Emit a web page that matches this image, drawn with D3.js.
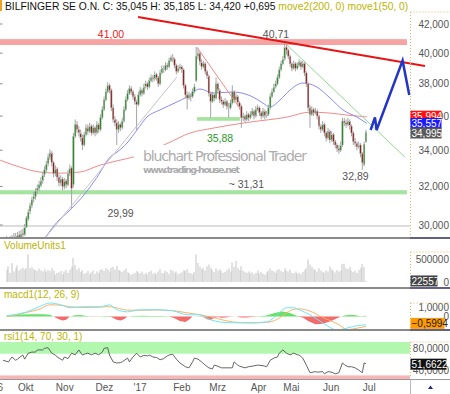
<!DOCTYPE html>
<html>
<head>
<meta charset="utf-8">
<script src="https://cdn.jsdelivr.net/npm/d3@7"></script>
<style>
  body { margin: 0; background: #fff; }
  svg { display: block; font-family: "Liberation Sans", Arial, sans-serif; }
</style>
</head>
<body>
<svg id="chart" width="450" height="394"></svg>
<script>
// ---- daily candles (trading-day index 0..199, Sep '16 .. Jul '17)
const opens = [29.30,29.20,29.10,29.30,29.25,29.45,29.35,29.50,29.40,29.60,
  29.50,29.90,30.30,30.70,31.00,31.35,31.45,31.80,31.90,32.05,
  32.30,32.65,32.90,33.25,33.60,33.85,33.30,32.70,32.95,32.50,
  32.20,32.40,32.00,32.30,32.10,32.70,33.00,32.10,34.80,35.50,
  35.20,35.00,34.70,34.30,34.90,35.30,35.10,35.40,35.00,35.30,
  35.00,35.50,35.20,35.90,36.40,37.00,37.50,37.90,37.60,36.50,
  35.80,35.60,35.20,35.50,35.30,35.70,36.40,37.00,37.40,37.70,
  37.50,37.20,36.90,36.70,37.30,37.60,37.40,37.80,38.00,37.80,
  38.20,38.40,38.30,38.60,38.40,38.00,38.70,39.00,38.90,39.20,
  39.10,39.50,39.70,39.60,39.20,38.80,39.00,39.10,38.90,37.90,
  37.30,37.10,37.30,37.20,37.50,38.20,39.80,40.00,39.40,39.10,
  39.30,38.80,38.50,37.40,36.90,37.30,37.10,38.00,37.60,37.00,
  36.90,36.70,36.90,36.60,36.50,36.80,37.50,37.00,37.20,36.80,
  36.60,35.90,36.00,35.80,36.10,35.90,36.10,36.30,36.00,36.40,
  36.50,36.20,36.00,36.30,36.00,36.10,36.50,37.20,37.50,37.80,
  38.00,38.40,38.90,39.30,39.60,40.40,40.20,39.80,39.30,39.00,
  39.30,39.00,39.20,39.40,39.10,39.30,38.70,38.00,36.50,36.10,
  36.40,36.20,36.30,36.00,35.40,35.20,35.50,35.00,34.70,35.10,
  34.60,34.90,34.50,34.30,34.10,34.00,34.30,35.70,35.60,35.50,
  35.70,35.40,35.00,34.50,34.40,34.20,34.30,33.80,33.20,34.50];
const highs = [29.45,29.35,29.45,29.50,29.60,29.60,29.65,29.70,29.75,29.80,
  30.05,30.45,30.80,31.15,31.45,31.70,31.90,32.10,32.30,32.50,
  32.80,33.10,33.40,33.80,34.05,33.95,33.40,33.15,33.05,32.65,
  32.60,32.50,32.45,32.40,32.90,33.20,33.10,35.00,35.80,35.70,
  35.40,35.20,34.90,35.05,35.50,35.50,35.60,35.50,35.50,35.40,
  35.70,35.60,36.10,36.60,37.20,37.70,38.10,38.00,37.70,36.70,
  36.00,35.80,35.70,35.60,35.90,36.60,37.20,37.60,37.90,37.85,
  37.60,37.35,37.00,37.50,37.80,37.70,38.00,38.20,38.10,38.40,
  38.60,38.55,38.80,38.70,38.50,38.90,39.20,39.15,39.40,39.35,
  39.70,39.85,39.95,39.70,39.30,39.20,39.30,39.20,39.00,38.00,
  37.50,37.50,37.40,37.70,38.00,40.40,40.30,40.10,39.60,39.50,
  39.40,38.90,38.60,37.50,37.50,37.40,38.40,38.10,37.70,37.20,
  37.00,37.10,37.00,36.80,37.00,37.90,37.60,37.40,37.30,36.90,
  36.70,36.20,36.10,36.30,36.20,36.30,36.50,36.40,36.60,36.70,
  36.60,36.30,36.50,36.40,36.30,36.70,37.40,37.70,38.00,38.20,
  38.60,39.10,39.50,39.80,40.71,40.60,40.30,39.90,39.40,39.50,
  39.40,39.40,39.60,39.50,39.50,39.40,38.80,38.10,36.70,36.60,
  36.50,36.50,36.40,36.10,35.50,35.70,35.60,35.10,35.30,35.20,
  35.10,35.00,34.60,34.40,34.30,34.50,35.90,35.90,35.80,35.90,
  35.80,35.50,35.10,34.70,34.50,34.50,34.40,33.90,34.50,35.185];
const lows = [29.05,28.95,29.05,29.10,29.15,29.20,29.25,29.25,29.30,29.35,
  29.45,29.85,30.20,30.55,30.85,31.15,31.30,31.60,31.75,31.95,
  32.15,32.50,32.75,33.10,33.45,33.10,32.50,32.55,32.30,32.00,
  32.05,31.80,31.85,31.90,32.00,32.55,30.80,31.95,34.70,35.00,
  34.80,34.50,34.00,34.20,34.80,34.90,35.00,34.85,34.90,34.80,
  34.90,35.00,35.10,35.80,36.30,36.90,37.40,37.40,36.30,35.60,
  35.40,34.30,35.00,35.10,35.20,35.60,36.30,36.90,37.30,37.30,
  37.00,36.70,35.20,36.60,37.20,37.20,37.30,37.70,37.60,37.70,
  38.10,38.10,38.20,38.20,37.80,37.90,38.60,38.70,38.80,38.90,
  39.00,39.40,39.40,39.00,38.60,38.70,38.90,38.70,37.70,37.10,
  36.40,37.00,36.90,37.10,37.40,38.10,39.60,39.20,38.90,39.00,
  38.60,38.30,37.20,35.90,36.80,36.90,37.00,37.40,36.80,36.70,
  36.50,36.60,36.40,35.90,36.40,36.70,36.80,36.90,36.60,36.40,
  35.30,35.70,35.60,35.70,35.70,35.80,36.00,35.80,35.90,36.30,
  36.00,35.80,35.90,35.80,35.90,36.00,36.40,37.10,37.40,37.70,
  37.90,38.30,38.80,39.20,39.50,39.90,39.60,39.10,38.80,38.90,
  38.80,38.90,39.10,38.90,39.00,38.50,37.80,36.30,35.30,36.00,
  36.00,36.10,35.80,35.20,35.00,35.10,34.80,34.50,34.60,34.40,
  34.50,34.30,34.10,33.90,33.80,33.90,34.20,35.40,35.30,35.40,
  35.20,34.80,34.30,34.20,34.00,34.10,33.60,32.89,33.10,34.42];
const closes = [29.20,29.10,29.30,29.25,29.40,29.35,29.45,29.40,29.55,29.50,
  29.90,30.35,30.65,31.00,31.30,31.45,31.75,31.90,32.10,32.30,
  32.60,32.90,33.20,33.60,33.85,33.30,32.70,32.90,32.50,32.20,
  32.40,32.00,32.25,32.10,32.70,33.00,31.90,34.80,35.50,35.20,
  35.00,34.70,34.30,34.90,35.30,35.10,35.40,35.00,35.30,35.00,
  35.50,35.20,35.90,36.40,37.00,37.50,37.90,37.60,36.50,35.80,
  35.60,35.20,35.50,35.30,35.70,36.40,37.00,37.40,37.70,37.50,
  37.20,36.90,36.70,37.30,37.60,37.40,37.80,38.00,37.80,38.20,
  38.40,38.30,38.60,38.40,38.00,38.70,39.00,38.90,39.20,39.10,
  39.50,39.70,39.60,39.20,38.80,39.00,39.10,38.90,37.90,37.30,
  37.10,37.30,37.20,37.50,37.80,39.80,40.00,39.40,39.10,39.30,
  38.80,38.50,37.40,36.90,37.30,37.10,38.00,37.60,37.00,36.90,
  36.70,36.90,36.60,36.50,36.80,37.50,37.00,37.20,36.80,36.60,
  35.90,36.00,35.80,36.10,35.90,36.10,36.30,36.00,36.40,36.50,
  36.20,36.00,36.30,36.00,36.10,36.50,37.20,37.50,37.80,38.00,
  38.40,38.90,39.30,39.60,40.40,40.20,39.80,39.30,39.00,39.30,
  39.00,39.20,39.40,39.10,39.30,38.70,38.00,36.50,36.10,36.40,
  36.20,36.30,36.00,35.40,35.20,35.50,35.00,34.70,35.10,34.60,
  34.90,34.50,34.30,34.10,34.00,34.30,35.70,35.60,35.50,35.70,
  35.40,35.00,34.50,34.40,34.20,34.30,33.80,33.30,34.35,35.045];
// volume in thousand units
const volumes = [260,340,200,410,230,300,360,250,280,310,
  270,300,600,300,320,270,260,240,290,250,
  230,280,220,260,240,300,250,160,200,210,
  240,170,230,260,200,270,330,520,370,270,
  300,220,260,180,200,240,170,210,250,180,
  230,200,260,280,240,300,270,230,310,330,
  270,350,260,240,220,250,290,210,190,160,
  180,200,240,210,190,230,170,200,160,220,
  250,180,200,170,230,280,200,190,250,220,
  180,270,240,200,230,170,190,210,260,240,
  280,200,190,170,220,600,410,330,280,300,
  250,340,380,310,260,220,300,250,280,240,
  200,220,260,300,230,420,330,460,300,260,
  340,250,220,200,230,190,210,170,200,250,
  190,220,180,160,210,240,290,250,230,200,
  260,280,240,220,300,250,230,270,200,190,
  230,180,200,170,220,260,300,490,380,330,
  280,260,230,300,250,220,200,250,230,340,
  280,240,210,260,230,250,390,400,300,280,
  330,250,220,240,200,260,310,390,330,22.557];

// ---- moving averages: [day index, price]
const ma200 = [[-3.6,33.44],[7.4,33.05],[18.5,32.78],[29.6,32.72],[40.6,32.78],[51.7,33.16],
  [62.8,33.44],[70,33.61],[89.4,34.41],[101.5,34.99],[114.3,35.28],[123.7,35.46],[134.8,35.64],
  [155.3,35.94],[168,36.24],[179.1,36.18],[188.5,36.06],[199.5,35.95]];
const ma50 = [[18.5,29.0],[21.3,29.35],[27.9,30.14],[35.1,30.76],[41.8,31.43],[50.1,32.5],
  [57.3,33.61],[61.1,33.89],[66.7,34.41],[72.2,35.17],[77.7,35.94],[84.9,36.37],[94.3,36.86],
  [99.9,37.17],[107.1,37.67],[114.3,37.42],[125.4,37.48],[136.4,37.17],[142,36.79],[145.8,36.55],
  [151.4,36.98],[156.9,37.6],[164.1,38.05],[171.9,37.79],[179.1,37.11],[186.3,36.37],[194,35.94],
  [199.5,35.56]];

// ---- drawn analysis: [day index, price]
const resistLine = [[72.8,42.5],[231.7,39.15]];
const fallLine = [[155.3,40.55],[220.6,33.61]];
const febLine = [[105.4,40.4],[129.8,36.37]];
const riseLine = [[21.3,29.35],[94.3,38.43]];
const forecast = [[201.6,35.17],[204.0,35.92],[204.9,35.17],[219.3,39.5],[223.0,37.29]];
const redZone = [40.55, 40.95];
const lowZone = [31.58, 31.80];
const midZone = [35.72, 35.94];
const midZoneDays = [105.4, 129.2];
const zoneDays = [-3.65, 221.7];
const lowLevel = 29.95;
const noteText = ["41,00", "40,71", "35,88", "~ 31,31", "29,99", "32,89"];
const noteDay = [57.8, 149.2, 118.2, 132.8, 63.1, 193.2];
const notePrice = [41.03, 41.03, 34.47, 31.91, 30.40, 32.34];

// ---- indicators
const macdDay = [0,4,11,18,24,30,35,42,52,57,61,67,74,83,92,100,107,113,118,125,135,144,150,155,159,162,168,175,183,189,194,199];
const macdVal = [0.08,0.2,0.5,1.08,1.5,1.3,0.97,1.08,1.08,1.3,0.75,0.52,0.75,0.75,0.63,0.19,0.19,-0.37,-0.6,-0.7,-0.7,-0.6,0.19,0.97,0.97,0.75,0.19,-0.7,-1.48,-1.26,-1.03,-0.92];
const signalVal = [0.0,0.1,0.45,0.8,1.3,1.25,1.1,1.0,1.05,1.1,0.95,0.7,0.7,0.72,0.65,0.4,0.2,-0.05,-0.3,-0.6,-0.72,-0.65,-0.3,0.4,0.8,0.85,0.6,-0.1,-0.8,-1.45,-1.3,-1.1];
const histDay = [0,3,8,14,20,24,26,29,31,33,35,38,41,44,47,52,56,58,61,63,65,67,70,75,80,85,90,93,96,99,101,103,106,109,111,113,115,117,119,121,124,127,130,133,136,140,144,148,152,155,158,161,164,167,171,175,179,183,185,188,191,194,196,198,199];
const histVal = [0.05,0.15,0.22,0.25,0.25,0.2,0.0,-0.3,-0.45,-0.35,0.0,0.15,0.18,0.05,-0.02,0.04,0.06,-0.05,-0.35,-0.45,-0.3,0.0,0.05,0.08,0.06,0.05,0.02,-0.2,-0.5,-0.6,-0.35,0.0,0.03,-0.05,-0.3,-0.4,-0.15,-0.05,-0.15,-0.1,-0.02,0.0,-0.1,-0.12,-0.05,0.02,0.1,0.35,0.55,0.5,0.3,0.05,-0.1,-0.5,-0.85,-0.8,-0.55,-0.2,0.0,0.15,0.2,0.1,0.03,0.05,0.1];
const rsiDay = [-2,1,3,5,6,9,10,12,14,16,17,20,21,23,25,27,28,31,32,34,36,38,40,42,43,45,47,49,51,53,54,56,57,59,61,63,64,67,68,70,72,74,76,78,79,81,83,85,87,89,90,92,94,96,99,101,103,104,106,108,110,112,114,115,117,119,122,125,126,128,129,132,134,136,139,142,144,146,148,150,151,153,155,157,159,161,162,164,166,168,171,172,175,176,178,180,182,184,186,187,189,191,193,195,197,198,199];
const rsiVal = [58,55,64,58,60,67.6,60,71,73,73,77,77,80,81,71,67.6,64,58,64,61,71,68,77,67.6,69,71,68,71,68,73,80,81,67.6,55,53,53.5,55,62,55,64,71,64,67,66,67.6,64,63,59,61,66,67.6,69,60,53,46,44,55,62,60,55,49,44,42,49,47,44,44,44,55,49,47,44,46,47,49,48,46,58,62,64,71,77,71,68,71,68,67.6,62,49,35,37,36,37,33,37,36,33,35,53,50,46,46,44,40,35,53,51.66];

// ---- axes
const priceTicks = [30, 32, 34, 36, 38, 40, 42];
const priceTags = [35.994, 35.557, 34.995];
const monthLabels = ["'16", "Okt", "Nov", "Dez", "'17", "Feb", "Mrz", "Apr", "Mai", "Jun", "Jul"];
const monthStart = [-9.5, 6, 27, 49, 70, 92, 112, 135, 153, 175, 197];

const W = 450, plotRight = 410;
const svg = d3.select("#chart");
const de = d3.formatLocale({ decimal: ",", thousands: ".", grouping: [3], currency: ["", " €"] });
const fmt3 = de.format(".3f"), fmt4 = de.format(".4f");

const x = d3.scaleLinear().domain([-3.65, 223.4]).range([0, plotRight]);
const y = d3.scaleLog().domain([30, 42]).range([225, 24]);
const yVol = d3.scaleLinear().domain([0, 500]).range([282, 259]);
const yMacd = d3.scaleLinear().domain([0, 1]).range([316.5, 307.5]);
const yRsi = d3.scaleLinear().domain([40, 80]).range([370, 348.3]);

const defs = svg.append("defs");
defs.append("clipPath").attr("id", "clipMain").append("rect").attr("x", 0).attr("y", 12).attr("width", plotRight).attr("height", 225);
defs.append("clipPath").attr("id", "clipRsi").append("rect").attr("x", 0).attr("y", 342).attr("width", plotRight).attr("height", 37);
defs.append("clipPath").attr("id", "clipMacd").append("rect").attr("x", 0).attr("y", 290).attr("width", plotRight).attr("height", 39);

// header
svg.append("rect").attr("x", 0).attr("y", 0).attr("width", 2).attr("height", 11).attr("fill", "#f0a020");
const head = svg.append("text").attr("x", 5).attr("y", 9.5).style("font-size", "10.3px");
head.append("tspan").attr("fill", "#111").text("BILFINGER SE O.N. C: 35,045 H: 35,185 L: 34,420 +0,695 ");
head.append("tspan").attr("fill", "#bdb400").text("move2(200, 0) move1(50, 0)");

// ---------------- main panel
const main = svg.append("g").attr("clip-path", "url(#clipMain)");
const zoneRect = (g, days, zone, fill) => g.append("rect")
  .attr("x", x(days[0])).attr("width", x(days[1]) - x(days[0]))
  .attr("y", y(zone[1])).attr("height", y(zone[0]) - y(zone[1])).attr("fill", fill);
zoneRect(main, zoneDays, redZone, "#f5a3a3");
zoneRect(main, zoneDays, lowZone, "#a6e3a0");
zoneRect(main, midZoneDays, midZone, "#a6e3a0");
main.append("line").attr("x1", 0).attr("x2", plotRight)
  .attr("y1", y(lowLevel)).attr("y2", y(lowLevel)).attr("stroke", "#bbb");

const priceLine = d3.line().x(d => x(d[0])).y(d => y(d[1])).curve(d3.curveMonotoneX);
main.append("path").attr("d", priceLine(ma200)).attr("fill", "none").attr("stroke", "#f28a8a");
main.append("path").attr("d", priceLine(ma50)).attr("fill", "none").attr("stroke", "#8a8af5");

// watermark
svg.append("rect").attr("x", 134).attr("y", 145).attr("width", 176).attr("height", 31).attr("fill", "#fff");
svg.append("text").attr("x", 143).attr("y", 161).attr("textLength", 164).attr("lengthAdjust", "spacing")
  .attr("fill", "#acacac").style("font-family", "'DejaVu Sans', sans-serif").style("font-size", "14px")
  .text("bluchart Professional Trader");
svg.append("text").attr("x", 143).attr("y", 173).attr("textLength", 97).attr("lengthAdjust", "spacing")
  .attr("fill", "#acacac").style("font-family", "'DejaVu Sans', sans-serif").style("font-size", "9.5px")
  .style("font-weight", "bold").text("www.trading-house.net");

// candles
const candles = closes.map((c, i) => ({ i, o: opens[i], h: highs[i], l: lows[i], c }));
main.selectAll(".wick").data(candles).join("line").attr("class", "wick")
  .attr("x1", d => x(d.i)).attr("x2", d => x(d.i))
  .attr("y1", d => y(d.h)).attr("y2", d => y(d.l))
  .attr("stroke", "#a4a4a4");
main.selectAll(".body").data(candles).join("rect").attr("class", "body")
  .attr("x", d => x(d.i) - 0.8).attr("width", 1.6)
  .attr("y", d => y(Math.max(d.o, d.c)))
  .attr("height", d => Math.max(1, Math.abs(y(d.o) - y(d.c))))
  .attr("fill", d => (d.c >= d.o ? "#2f8a2f" : "#8c2424"))
  .attr("stroke", "#c4c4c4").attr("stroke-width", 0.4);

// drawn lines
const straight = d3.line().x(d => x(d[0])).y(d => y(d[1]));
main.append("path").attr("d", straight(riseLine)).attr("stroke", "#c4c4c4").attr("fill", "none");
main.append("path").attr("d", straight(febLine)).attr("stroke", "#f28a8a").attr("fill", "none");
svg.append("path").attr("d", straight(fallLine)).attr("stroke", "#8fdc8f").attr("fill", "none");
svg.append("path").attr("d", straight(resistLine)).attr("stroke", "#e61515").attr("stroke-width", 2).attr("fill", "none");
svg.append("path").attr("d", straight(forecast)).attr("stroke", "#2235c8").attr("stroke-width", 2.5)
  .attr("fill", "none").attr("stroke-linejoin", "miter");

const noteColor = ["#e62020", "#555", "#2a9a2a", "#555", "#555", "#555"];
svg.selectAll(".note").data(noteText).join("text").attr("class", "note")
  .attr("x", (d, i) => x(noteDay[i])).attr("y", (d, i) => y(notePrice[i]))
  .attr("text-anchor", "middle").attr("fill", (d, i) => noteColor[i])
  .style("font-size", "10.5px").text(d => d);

// left tick marks
svg.selectAll(".ltick").data(priceTicks).join("line").attr("class", "ltick")
  .attr("x1", 0).attr("x2", 2.5).attr("y1", d => y(d)).attr("y2", d => y(d)).attr("stroke", "#888");

// ---------------- volume panel
const volPanel = svg.append("g");
volPanel.append("text").attr("x", 4).attr("y", 249).attr("fill", "#bdb400").style("font-size", "10px").text("VolumeUnits1");
volPanel.selectAll("rect").data(volumes).join("rect")
  .attr("x", (d, i) => Math.round(x(i)) - 0.5).attr("width", 1)
  .attr("y", d => yVol(d)).attr("height", d => yVol(0) - yVol(d)).attr("fill", "#c4c4c4");

// ---------------- macd panel
const macdPanel = svg.append("g");
macdPanel.append("text").attr("x", 4).attr("y", 298).attr("fill", "#bdb400").style("font-size", "10px").text("macd1(12, 26, 9)");
const mg = macdPanel.append("g").attr("clip-path", "url(#clipMacd)");
const hist = histDay.map((d, i) => [d, histVal[i]]);
mg.append("path").attr("fill", "#66e066")
  .attr("d", d3.area().x(d => x(d[0])).y0(yMacd(0)).y1(d => yMacd(Math.max(0, d[1])))(hist));
mg.append("path").attr("fill", "#f26a6a")
  .attr("d", d3.area().x(d => x(d[0])).y0(yMacd(0)).y1(d => yMacd(Math.min(0, d[1])))(hist));
const macdLine = d3.line().x(d => x(d[0])).y(d => yMacd(d[1])).curve(d3.curveMonotoneX);
mg.append("path").attr("d", macdLine(macdDay.map((d, i) => [d, signalVal[i]])))
  .attr("fill", "none").attr("stroke", "#f5b46a");
mg.append("path").attr("d", macdLine(macdDay.map((d, i) => [d, macdVal[i]])))
  .attr("fill", "none").attr("stroke", "#6fe6f2");

// ---------------- rsi panel
const rsiPanel = svg.append("g");
const rg = rsiPanel.append("g").attr("clip-path", "url(#clipRsi)");
rg.append("rect").attr("x", 0).attr("width", plotRight).attr("y", yRsi(100)).attr("height", yRsi(70) - yRsi(100)).attr("fill", "#b2f7ae");
rg.append("rect").attr("x", 0).attr("width", plotRight).attr("y", yRsi(30)).attr("height", yRsi(0) - yRsi(30)).attr("fill", "#f9b4b4");
rsiPanel.append("text").attr("x", 4).attr("y", 340).attr("fill", "#bdb400").style("font-size", "10px").text("rsi1(14, 70, 30, 1)");
rg.append("path")
  .attr("d", d3.line().x(d => x(d[0])).y(d => yRsi(d[1]))(rsiDay.map((d, i) => [d, rsiVal[i]])))
  .attr("fill", "none").attr("stroke", "#555").attr("stroke-width", 0.9);

// ---------------- right axes
const rightAxis = (scale, ticks, fmt) => {
  const g = svg.append("g").attr("transform", `translate(${W - 1},0)`)
    .call(d3.axisRight(scale).tickValues(ticks).tickFormat(fmt).tickSize(0).tickPadding(0));
  g.select(".domain").remove();
  g.attr("font-family", null).attr("font-size", null);
  g.selectAll("text").attr("text-anchor", "end").attr("fill", "#555").style("font-size", "10px");
  return g;
};
rightAxis(y, priceTicks, fmt3);
rightAxis(yVol, [0, 500], d => (d === 0 ? "0" : String(d * 1000)));
rightAxis(yMacd, [0, 1], d => (d === 0 ? "0" : fmt4(d)));
rightAxis(yRsi, [40, 80], fmt4);

// dotted frames of the scale boxes
const dotted = [[410.5, 12, 410.5, 237], [410.5, 12, 450, 12], [410.5, 252, 410.5, 287], [410.5, 252, 450, 252],
  [410.5, 303, 410.5, 329], [410.5, 303, 450, 303], [410.5, 342, 410.5, 378], [410.5, 342, 450, 342]];
svg.selectAll(".dot").data(dotted).join("line").attr("class", "dot")
  .attr("x1", d => d[0]).attr("y1", d => d[1]).attr("x2", d => d[2]).attr("y2", d => d[3])
  .attr("stroke", "#e2b866").attr("stroke-dasharray", "1,2");

// value tags
const tagFill = ["#ff1010", "#1a1aff", "#585858"];
priceTags.forEach((v, i) => {
  svg.append("rect").attr("x", 410.5).attr("y", y(v) - 5.5).attr("width", 31).attr("height", 11).attr("fill", tagFill[i]);
  svg.append("text").attr("x", 411.5).attr("y", y(v) + 4).attr("fill", "#fff").style("font-size", "10px").text(fmt3(v));
});
const tag = (yy, w, fill, color, label) => {
  svg.append("rect").attr("x", 410.5).attr("y", yy - 5.5).attr("width", w).attr("height", 11).attr("fill", fill);
  svg.append("text").attr("x", 411.5).attr("y", yy + 4).attr("fill", color).style("font-size", "10px").text(label);
};
tag(yVol(volumes[volumes.length - 1]), 27, "#444", "#fff", String(Math.round(volumes[volumes.length - 1] * 1000)));
tag(yMacd(-0.5994) + 1.5, 34, "#ff9900", "#222", fmt4(-0.5994));
tag(yRsi(rsiVal[rsiVal.length - 1]) + 0.5, 36, "#111", "#fff", fmt4(51.6622));

// ---------------- separators and time axis
const sep = [238, 288, 330];
svg.selectAll(".sep").data(sep).join("line").attr("class", "sep")
  .attr("x1", 0).attr("x2", plotRight).attr("y1", d => d).attr("y2", d => d)
  .attr("stroke", "#8a8a8a").attr("stroke-width", 2);
svg.selectAll(".sepr").data(sep).join("line").attr("class", "sepr")
  .attr("x1", plotRight).attr("x2", W).attr("y1", d => d).attr("y2", d => d)
  .attr("stroke", "#2c2c5c").attr("stroke-width", 1.5);
svg.append("line").attr("x1", 0).attr("x2", W).attr("y1", 379.5).attr("y2", 379.5).attr("stroke", "#999");
svg.append("line").attr("x1", 410.5).attr("x2", 410.5).attr("y1", 379.5).attr("y2", 394).attr("stroke", "#bbb");
svg.append("path").attr("d", "M428,389 L430.5,385.5 L433,389 Z").attr("fill", "#1a2a80");

const gx = svg.append("g").attr("transform", "translate(0,379)")
  .call(d3.axisBottom(x).tickValues(monthStart).tickFormat((d, i) => monthLabels[i]).tickSize(0).tickPadding(5));
gx.select(".domain").remove();
gx.attr("font-family", null).attr("font-size", null);
gx.selectAll("text").attr("text-anchor", "start").attr("fill", "#555").style("font-size", "10px");
</script>
</body>
</html>
